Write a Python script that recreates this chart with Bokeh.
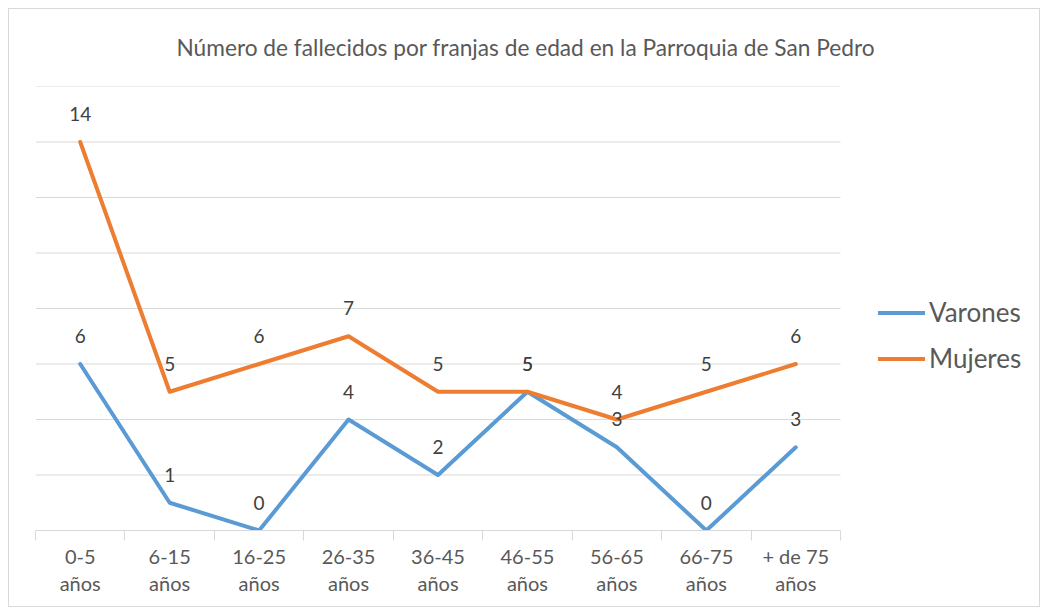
from bokeh.plotting import figure
from bokeh.models import (ColumnDataSource, FixedTicker, Grid, Legend, LegendItem,
                          Title, Range1d, LinearAxis)
from bokeh.core.properties import value
from bokeh.embed import file_html
from bokeh.resources import INLINE

categories = ["0-5 años", "6-15 años", "16-25 años", "26-35 años", "36-45 años",
              "46-55 años", "56-65 años", "66-75 años", "+ de 75 años"]
varones = [6, 1, 0, 4, 2, 5, 3, 0, 3]
mujeres = [14, 5, 6, 7, 5, 5, 4, 5, 6]
y_ticks = [0, 2, 4, 6, 8, 10, 12, 14, 16]
title_text = "Número de fallecidos por franjas de edad en la Parroquia de San Pedro"

FONT = "Lato"
BLUE = "#5B9BD5"
ORANGE = "#ED7D31"
GRAY_TXT = "#595959"
GRID = "#D9D9D9"

n = len(categories)
xs = list(range(n))
# plot area: categories occupy the left part of the frame, legend sits in the right part
PLOT_W = 805
FRAME_W = 1004
x_end = -0.5 + n * FRAME_W / PLOT_W

p = figure(width=1032, height=599, output_backend="svg", toolbar_location=None,
           x_range=Range1d(-0.5, x_end), y_range=Range1d(0, 16),
           x_axis_location=None, y_axis_location=None,
           min_border_left=26, min_border_right=2, min_border_top=77, min_border_bottom=78)
p.margin = (8, 0, 0, 8)
p.styles = {"border": "1px solid #D9D9D9"}
p.outline_line_color = None
p.background_fill_color = "white"
p.border_fill_color = "white"
p.center = [r for r in p.center if not isinstance(r, Grid)]

# title
t = Title(text=title_text, align="left", offset=141, standoff=47, vertical_align="top",
          text_font=FONT, text_font_size="22.7px", text_font_style="normal",
          text_color=GRAY_TXT)
p.add_layout(t, "above")

# x axis
xaxis = LinearAxis(ticker=FixedTicker(ticks=xs, minor_ticks=[i - 0.5 for i in range(n + 1)]),
                   bounds=(-0.5, n - 0.5))
xaxis.major_label_overrides = {i: c.rsplit(" ", 1)[0] + "\n" + c.rsplit(" ", 1)[1]
                               for i, c in enumerate(categories)}
xaxis.axis_line_color = GRID
xaxis.axis_line_width = 1
xaxis.major_tick_line_color = None
xaxis.major_tick_out = 0
xaxis.major_tick_in = 0
xaxis.minor_tick_line_color = GRID
xaxis.minor_tick_out = 10
xaxis.minor_tick_in = 0
xaxis.major_label_text_font = FONT
xaxis.major_label_text_font_size = "20px"
xaxis.major_label_text_color = GRAY_TXT
xaxis.major_label_text_line_height = 1.15
xaxis.major_label_standoff = 3
p.add_layout(xaxis, "below")

# horizontal gridlines limited to the category area
p.segment(x0=-0.5, x1=n - 0.5, y0=y_ticks, y1=y_ticks, line_color=GRID, line_width=1,
          level="underlay")

src_v = ColumnDataSource(dict(x=xs, y=varones, lab=[str(v) for v in varones]))
src_m = ColumnDataSource(dict(x=xs, y=mujeres, lab=[str(v) for v in mujeres]))

lv = p.line("x", "y", source=src_v, line_color=BLUE, line_width=4,
            line_join="round", line_cap="round")
lm = p.line("x", "y", source=src_m, line_color=ORANGE, line_width=4,
            line_join="round", line_cap="round")

for src in (src_v, src_m):
    p.text("x", "y", text="lab", source=src, text_align="center", text_baseline="middle",
           y_offset=-28, text_font=value(FONT), text_font_size="19px", text_color="#404040")

legend = Legend(items=[LegendItem(label="Varones", renderers=[lv]),
                       LegendItem(label="Mujeres", renderers=[lm])],
                location=(843, 156), orientation="vertical",
                glyph_width=47, glyph_height=25, label_height=25, label_standoff=4,
                spacing=14, padding=0, margin=0,
                border_line_color=None, background_fill_alpha=0,
                label_text_font=FONT, label_text_font_size="26px", label_text_color=GRAY_TXT)
p.add_layout(legend, "center")

open("out.html", "w").write(file_html(p, INLINE))
